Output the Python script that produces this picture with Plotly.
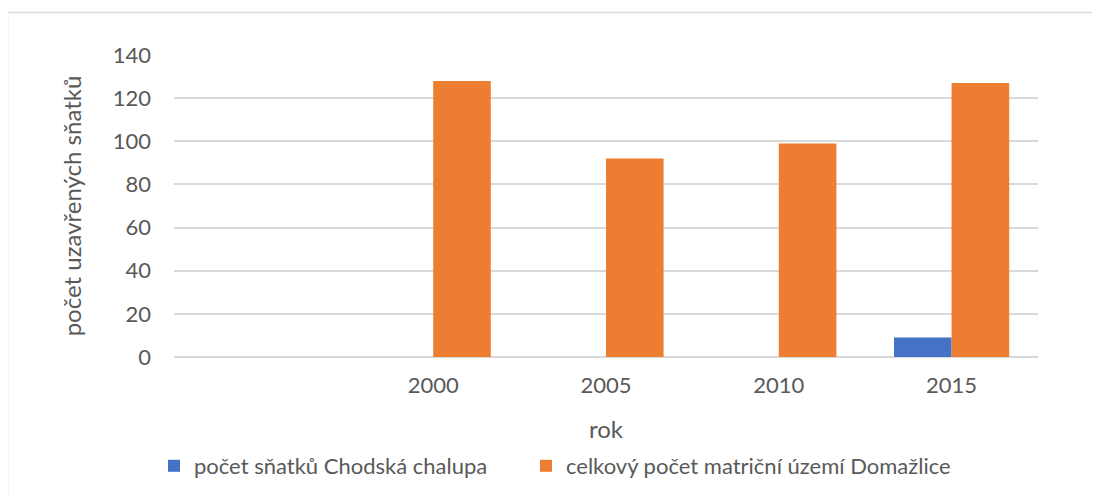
import plotly.graph_objects as go

categories = [" ", "2000", "2005", "2010", "2015"]
chodska = [0, 0, 0, 0, 9]
domazlice = [0, 128, 92, 99, 127]
series_names = ["počet sňatků Chodská chalupa", "celkový počet matriční území Domažlice"]
y_ticks = [0, 20, 40, 60, 80, 100, 120, 140]

OFF = 8  # page body margin
W, H = 1092, 489
# plot area in page pixels: x 174..1038, y 55..357
ML, MT = 174 - OFF, 55 - OFF
MR = W - (1038 - OFF)
MB = H - (357 - OFF)
pw, ph = W - ML - MR, H - MT - MB

def px_x(px):
    return (px - OFF - ML) / pw

def px_y(py):
    return (H - MB - (py - OFF)) / ph

FONT = "Lato, Calibri, sans-serif"
TXT = "#595959"

fig = go.Figure()
fig.add_trace(go.Bar(x=categories, y=chodska, name=series_names[0], legend="legend",
                     showlegend=True,
                     marker=dict(color="#4472C4", line=dict(width=0))))
fig.add_trace(go.Bar(x=categories, y=domazlice, name=series_names[1], legend="legend2",
                     showlegend=True,
                     marker=dict(color="#ED7D31", line=dict(width=0))))

leg_common = dict(orientation="h", yanchor="middle", y=px_y(466), xanchor="left",
                  font=dict(size=22, color=TXT), itemwidth=30, bgcolor="rgba(0,0,0,0)")

fig.update_layout(
    width=W, height=H,
    showlegend=True,
    margin=dict(l=ML, r=MR, t=MT, b=MB, autoexpand=False),
    paper_bgcolor="white", plot_bgcolor="white",
    barmode="group", bargap=1/3, bargroupgap=0,
    font=dict(family=FONT, size=22, color=TXT),
    legend=dict(leg_common, x=px_x(154)),
    legend2=dict(leg_common, x=px_x(526)),
    xaxis=dict(type="category", categoryorder="array", categoryarray=categories,
               showgrid=False, showline=False, ticks="", ticklabelstandoff=13,
               tickfont=dict(size=22, color=TXT),
               title=dict(text="rok", font=dict(size=24, color=TXT), standoff=24)),
    yaxis=dict(range=[0, 140], tickvals=y_ticks, showgrid=True, gridcolor="#D9D9D9", gridwidth=1.5,
               zeroline=True, zerolinecolor="#D9D9D9", zerolinewidth=1.5,
               showline=False, ticks="", ticklabelstandoff=22,
               tickfont=dict(size=22, color=TXT),
               title=dict(text="počet uzavřených sňatků", font=dict(size=24, color=TXT), standoff=24)),
    shapes=[dict(type="rect", xref="paper", yref="paper",
                 x0=px_x(7.5), x1=px_x(1130), y0=px_y(12.5), y1=px_y(530),
                 line=dict(color="#D9D9D9", width=1.5), layer="below")],
)

fig.write_html("out.html")
